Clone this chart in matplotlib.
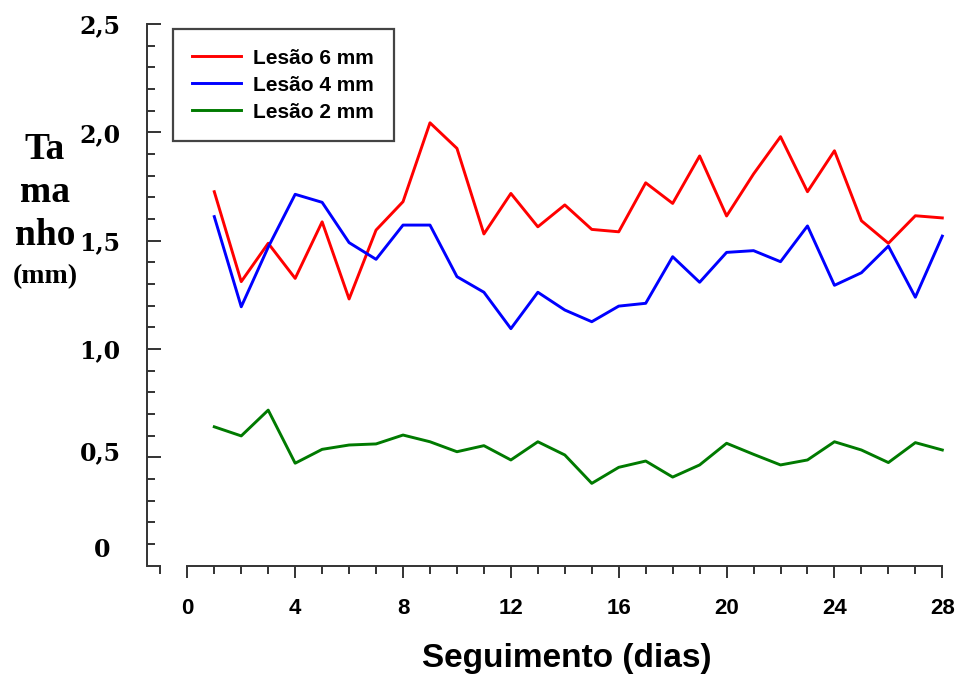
import matplotlib
matplotlib.use("Agg")
import matplotlib.pyplot as plt
from matplotlib.ticker import MultipleLocator
from matplotlib.transforms import ScaledTranslation

# dados
dias = list(range(1, 29))
lesao_6 = [1.726, 1.311, 1.488, 1.326, 1.587, 1.231, 1.549, 1.680, 2.044, 1.926,
           1.531, 1.718, 1.564, 1.665, 1.552, 1.541, 1.767, 1.672, 1.891, 1.614,
           1.808, 1.980, 1.726, 1.915, 1.592, 1.488, 1.615, 1.605]
lesao_4 = [1.611, 1.195, 1.470, 1.714, 1.677, 1.491, 1.414, 1.572, 1.572, 1.334,
           1.262, 1.094, 1.262, 1.180, 1.126, 1.198, 1.211, 1.426, 1.308, 1.446,
           1.454, 1.403, 1.568, 1.294, 1.352, 1.475, 1.239, 1.521]
lesao_2 = [0.641, 0.599, 0.718, 0.473, 0.537, 0.557, 0.562, 0.603, 0.572, 0.526,
           0.554, 0.488, 0.572, 0.511, 0.380, 0.454, 0.483, 0.409, 0.465, 0.565,
           0.514, 0.465, 0.488, 0.572, 0.534, 0.476, 0.568, 0.534]
nomes = ["Lesão 6 mm", "Lesão 4 mm", "Lesão 2 mm"]
cores = ["#ff0000", "#0000ff", "#007a00"]
y_ticks = [0, 0.5, 1.0, 1.5, 2.0, 2.5]
y_labels = ["0", "0,5", "1,0", "1,5", "2,0", "2,5"]
x_ticks = list(range(0, 29, 4))

W, H = 958, 675
fig = plt.figure(figsize=(W / 100, H / 100), dpi=100)
left, right, top, bottom = 147, 945, 24, 565.7
ax = fig.add_axes([left / W, 1 - bottom / H, (right - left) / W, (bottom - top) / H])

for serie, nome, cor in zip([lesao_6, lesao_4, lesao_2], nomes, cores):
    ax.plot(dias, serie, color=cor, lw=2.1, label=nome, clip_on=False)

ax.set_xlim(-1.495, 28.1)
ax.set_ylim(0, 2.5)

cinza = "#333333"
for s in ["top", "right"]:
    ax.spines[s].set_visible(False)
for s in ["left", "bottom"]:
    ax.spines[s].set_color(cinza)
    ax.spines[s].set_linewidth(1.4)
ax.spines["bottom"].set_bounds(0, 28)

ax.set_xticks(x_ticks)
ax.xaxis.set_minor_locator(MultipleLocator(1))
ax.set_yticks(y_ticks)
ax.set_yticklabels(y_labels)
ax.yaxis.set_minor_locator(MultipleLocator(0.1))

ax.tick_params(axis="x", which="major", direction="out", length=8.6, width=1.4,
               color=cinza, pad=15)
ax.tick_params(axis="x", which="minor", direction="out", length=5.5, width=1.4,
               color=cinza)
ax.tick_params(axis="y", which="major", direction="in", length=10, width=1.4,
               color=cinza, pad=19)
ax.tick_params(axis="y", which="minor", direction="in", length=6, width=1.4,
               color=cinza)

for lab in ax.get_xticklabels():
    lab.set_fontfamily("Liberation Sans")
    lab.set_fontweight("bold")
    lab.set_fontsize(16)
for lab in ax.get_yticklabels():
    lab.set_fontfamily("DejaVu Serif")
    lab.set_fontweight("bold")
    lab.set_fontsize(17)

# no original o "0" e o "0,5" ficam um pouco acima do traco
ticks_y = ax.yaxis.get_major_ticks()
for tk, dx, dy in [(ticks_y[0], -10, 18), (ticks_y[1], 0, 7)]:
    lab = tk.label1
    lab.set_transform(lab.get_transform() +
                      ScaledTranslation(dx / 100, dy / 100, fig.dpi_scale_trans))

ax.set_xlabel("Seguimento (dias)", fontsize=24, fontweight="bold",
              fontfamily="Liberation Sans")
ax.xaxis.set_label_coords(0.526, -0.143)

fig.text(45 / W, 1 - 132 / H, "Ta\nma\nnho", ha="center", va="top",
         fontsize=27, fontweight="bold", fontfamily="Liberation Serif",
         linespacing=1.3)
fig.text(45 / W, 1 - 277 / H, "(mm)", ha="center", va="center",
         fontsize=20, fontweight="bold", fontfamily="Liberation Serif")

leg = ax.legend(loc="upper left", bbox_to_anchor=(0.032, 0.991), borderaxespad=0,
                fancybox=False, framealpha=1, edgecolor="#444444",
                prop={"family": "Liberation Sans", "weight": "bold", "size": 15},
                handlelength=2.35, handletextpad=0.58, labelspacing=0.38,
                borderpad=0.95)
leg.get_frame().set_linewidth(1.6)

fig.savefig("out.png", dpi=100)
